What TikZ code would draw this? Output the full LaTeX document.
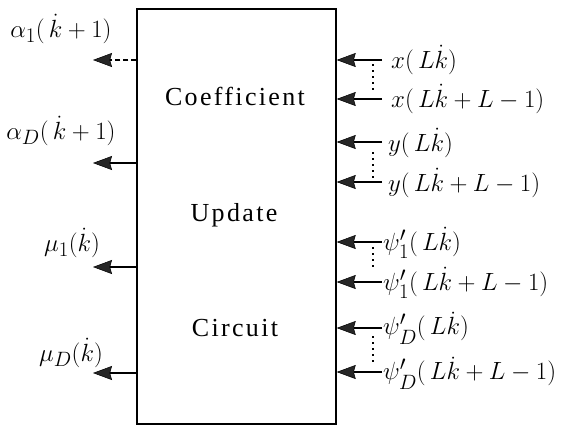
\documentclass[tikz,border=0pt]{standalone}
\usepackage{fontspec}
\usepackage{amsmath}
\newfontfamily\boxfont[LetterSpace=9]{Liberation Serif}
\usetikzlibrary{arrows.meta}
\begin{document}
\begin{tikzpicture}[x=1pt,y=-1pt,
  conn/.style={line width=1.3pt,-{Stealth[length=19pt,width=14pt,inset=2pt,fill=black!85,line width=0.5pt]}},
  dashconn/.style={conn,dash pattern=on 5pt off 3pt},
  dots/.style={line width=2pt,dash pattern=on 2pt off 4pt},
  lbl/.style={font=\fontsize{24.88}{28}\selectfont,inner sep=0pt},
  inner/.style={font=\boxfont\fontsize{26}{30}\selectfont,inner sep=0pt}]
\useasboundingbox (0,0) rectangle (564,426);
\node[draw,line width=1.4pt,minimum width=199pt,minimum height=415pt,inner sep=0pt] (box) at (236.5,216.5) {};
\node[inner] (t1) at (235,96) {Coefficient};
\node[inner] (t2) at (234,215) {Update};
\node[inner] (t3) at (235,328) {Circuit};
% left outputs
\coordinate (oa1) at (93,60);
\coordinate (oaD) at (93,163);
\coordinate (om1) at (93,267);
\coordinate (omD) at (93,373);
\draw[dashconn] (box.west |- oa1) -- (oa1);
\draw[conn] (box.west |- oaD) -- (oaD);
\draw[conn] (box.west |- om1) -- (om1);
\draw[conn] (box.west |- omD) -- (omD);
\node[lbl] (la1) at (61,29) {$\alpha_1(\,\dot{k}+1)$};
\node[lbl] (laD) at (61,131) {$\alpha_D(\,\dot{k}+1)$};
\node[lbl] (lm1) at (72,243) {$\mu_1(\dot{k})$};
\node[lbl] (lmD) at (71,353) {$\mu_D(\dot{k})$};
% right inputs
\coordinate (ix1) at (382,60);
\coordinate (ix2) at (382,99);
\coordinate (iy1) at (382,142);
\coordinate (iy2) at (382,182);
\coordinate (ip1) at (382,242);
\coordinate (ip2) at (382,282);
\coordinate (iq1) at (382,328);
\coordinate (iq2) at (382,372);
\foreach \c in {ix1,ix2,iy1,iy2,ip1,ip2,iq1,iq2}
  \draw[conn] (\c) -- (box.east |- \c);
\coordinate (d1a) at (373,64); \coordinate (d1b) at (373,90);
\coordinate (d2a) at (373,152); \coordinate (d2b) at (373,178);
\coordinate (d3a) at (373,247); \coordinate (d3b) at (373,270);
\coordinate (d4a) at (373,336); \coordinate (d4b) at (373,364);
\draw[dots] (d1a) -- (d1b);
\draw[dots] (d2a) -- (d2b);
\draw[dots] (d3a) -- (d3b);
\draw[dots] (d4a) -- (d4b);
\node[lbl,anchor=west] (lx1) at (391,60) {$x(\,L\dot{k})$};
\node[lbl,anchor=west] (lx2) at (391,99) {$x(\,L\dot{k}+L-1)$};
\node[lbl,anchor=west] (ly1) at (388,143) {$y(\,L\dot{k})$};
\node[lbl,anchor=west] (ly2) at (388,183) {$y(\,L\dot{k}+L-1)$};
\node[lbl,anchor=west] (lp1) at (383,243) {$\psi'_1(\,L\dot{k})$};
\node[lbl,anchor=west] (lp2) at (383,283) {$\psi'_1(\,L\dot{k}+L-1)$};
\node[lbl,anchor=west] (lq1) at (383,328) {$\psi'_D(\,L\dot{k})$};
\node[lbl,anchor=west] (lq2) at (383,373) {$\psi'_D(\,L\dot{k}+L-1)$};
\end{tikzpicture}
\end{document}
